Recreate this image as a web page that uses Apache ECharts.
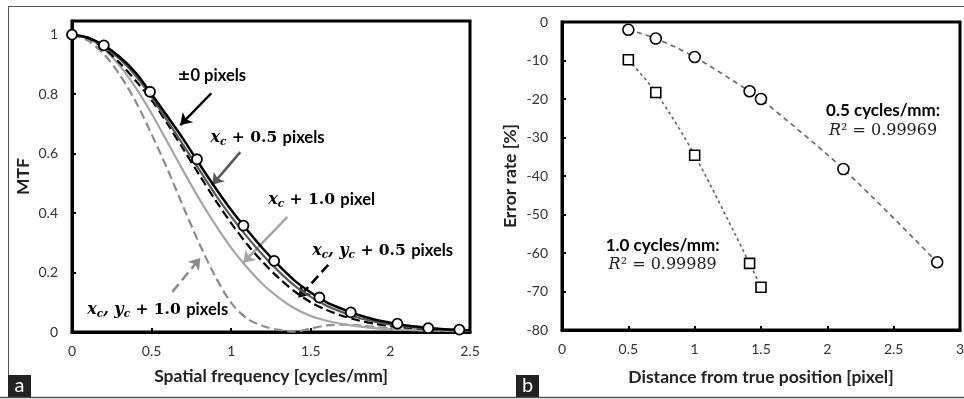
<!DOCTYPE html>
<html>
<head>
<meta charset="utf-8">
<script src="https://cdn.jsdelivr.net/npm/echarts@6/dist/echarts.min.js"></script>
<style>
html, body { margin: 0; padding: 0; background: #fff; }
#main { width: 964px; height: 399px; }
</style>
</head>
<body>
<div id="main"></div>
<script>
// (a) MTF curves, sampled every 0.1 cycles/mm
var freq = [0, 0.1, 0.2, 0.3, 0.4, 0.5, 0.6, 0.7, 0.8, 0.9, 1.0, 1.1, 1.2, 1.3, 1.4, 1.5, 1.6, 1.7, 1.8, 1.9, 2.0, 2.1, 2.2, 2.3, 2.4, 2.5];
var mtfZero = [1.0, 0.99, 0.964, 0.925, 0.872, 0.80, 0.725, 0.648, 0.565, 0.485, 0.41, 0.343, 0.28, 0.223, 0.172, 0.133, 0.10, 0.077, 0.057, 0.042, 0.031, 0.022, 0.016, 0.011, 0.008, 0.006];
var mtfXHalf = [1.0, 0.99, 0.96, 0.918, 0.862, 0.79, 0.71, 0.628, 0.545, 0.463, 0.388, 0.32, 0.258, 0.203, 0.155, 0.118, 0.088, 0.066, 0.048, 0.035, 0.025, 0.018, 0.013, 0.009, 0.006, 0.005];
var mtfXYHalf = [1.0, 0.988, 0.955, 0.905, 0.845, 0.78, 0.70, 0.614, 0.528, 0.444, 0.366, 0.295, 0.234, 0.181, 0.136, 0.10, 0.074, 0.054, 0.039, 0.028, 0.02, 0.015, 0.011, 0.008, 0.006, 0.005];
var mtfXOne = [1.0, 0.988, 0.952, 0.895, 0.822, 0.735, 0.638, 0.541, 0.447, 0.361, 0.283, 0.217, 0.16, 0.115, 0.079, 0.054, 0.038, 0.027, 0.019, 0.013, 0.009, 0.007, 0.006, 0.005, 0.004, 0.004];
var mtfXYOne = [1.0, 0.98, 0.935, 0.865, 0.775, 0.665, 0.547, 0.42, 0.297, 0.187, 0.098, 0.045, 0.02, 0.007, 0.001, 0.012, 0.022, 0.025, 0.022, 0.017, 0.012, 0.008, 0.005, 0.004, 0.003, 0.003];
// measured points on the ±0 curve
var markFreq = [0, 0.2, 0.49, 0.785, 1.077, 1.27, 1.554, 1.751, 2.044, 2.238, 2.433];
var markMtf = [1.0, 0.964, 0.808, 0.581, 0.358, 0.239, 0.116, 0.066, 0.028, 0.013, 0.008];

// (b) error rate vs distance
var dist05 = [0.5, 0.707, 1.0, 1.414, 1.5, 2.121, 2.828];
var err05 = [-2, -4.3, -9.1, -18, -20, -38.2, -62.4];
var dist10 = [0.5, 0.707, 1.0, 1.414, 1.5];
var err10 = [-9.8, -18.3, -34.6, -62.7, -68.9];

var tickFont = 'Lato, "Open Sans", sans-serif';
var serif = '"DejaVu Serif", serif';

function zip(xs, ys) {
	return xs.map(function (x, i) { return [x, ys[i]]; });
}

function curve(name, data, color, type, width, z) {
	return {
		name: name,
		type: 'line',
		xAxisIndex: 0,
		yAxisIndex: 0,
		data: data,
		smooth: 0.3,
		symbol: 'none',
		z: z,
		lineStyle: { color: color, type: type, width: width }
	};
}

function arrow(from, to, color, type) {
	return [
		{ coord: from, lineStyle: { color: color, type: type, width: 2.5 } },
		{ coord: to }
	];
}

function axisX(grid, max) {
	return {
		type: 'value',
		gridIndex: grid,
		min: 0,
		max: max,
		interval: 0.5,
		axisLine: { show: true, onZero: false, lineStyle: { color: '#000', width: 3 } },
		axisTick: { show: true, inside: true, length: 4, lineStyle: { color: '#000', width: 2 } },
		axisLabel: { color: '#333', fontFamily: tickFont, fontSize: 14, margin: 12 },
		splitLine: { show: false },
		nameLocation: 'middle',
		nameTextStyle: { color: '#222', fontFamily: tickFont, fontWeight: 'bold', fontSize: 17.5 }
	};
}

function axisY(grid) {
	return {
		type: 'value',
		gridIndex: grid,
		axisLine: { show: true, onZero: false, lineStyle: { color: '#000', width: 3 } },
		axisTick: { show: true, inside: true, length: 4, lineStyle: { color: '#000', width: 2 } },
		axisLabel: { color: '#333', fontFamily: tickFont, fontSize: 14, margin: 14 },
		splitLine: { show: false },
		nameLocation: 'middle',
		nameTextStyle: { color: '#222', fontFamily: tickFont, fontWeight: 'bold', fontSize: 17.5 }
	};
}

var chart = echarts.init(document.getElementById('main'), null, { renderer: 'canvas' });

var xA = axisX(0, 2.5);
xA.name = 'Spatial frequency [cycles/mm]';
xA.nameGap = 35;
var xB = axisX(1, 3);
xB.name = 'Distance from true position [pixel]';
xB.nameGap = 38;

var yA = axisY(0);
yA.min = 0;
yA.max = 1.046;
yA.interval = 0.2;
yA.name = 'MTF';
yA.nameGap = 40;
yA.axisLabel.formatter = function (v) {
	var r = Math.round(v * 5) / 5;
	return Math.abs(v - r) < 1e-6 ? String(r) : '';
};
var yB = axisY(1);
yB.min = -80;
yB.max = 0;
yB.interval = 10;
yB.name = 'Error rate [%]';
yB.nameGap = 43;

var zeroCurve = curve('±0 pixels', zip(freq, mtfZero), '#000', 'solid', 2.5, 10);
zeroCurve.markLine = {
	silent: true,
	animation: false,
	symbol: ['none', 'arrow'],
	symbolSize: 11,
	label: { show: false },
	data: [
		arrow([0.875, 0.803], [0.68, 0.696], '#000', 'solid'),
		arrow([1.057, 0.605], [0.881, 0.495], '#595959', 'solid'),
		arrow([1.353, 0.387], [1.076, 0.233], '#a6a6a6', 'solid'),
		arrow([1.61, 0.226], [1.422, 0.115], '#000', 'dashed'),
		arrow([0.63, 0.135], [0.806, 0.249], '#8c8c8c', 'dashed')
	]
};

var option = {
	animation: false,
	backgroundColor: '#fff',
	grid: [
		{ left: 72, top: 21, width: 398, height: 311, show: true, borderColor: '#000', borderWidth: 3, outerBoundsMode: 'none' },
		{ left: 562, top: 22, width: 398, height: 308, show: true, borderColor: '#000', borderWidth: 3, outerBoundsMode: 'none' }
	],
	xAxis: [xA, xB],
	yAxis: [yA, yB],
	series: [
		curve('xc,yc + 1.0 pixels', zip(freq, mtfXYOne), '#8c8c8c', 'dashed', 2.2, 2),
		curve('xc + 1.0 pixel', zip(freq, mtfXOne), '#a6a6a6', 'solid', 2.2, 3),
		curve('xc,yc + 0.5 pixels', zip(freq, mtfXYHalf), '#000', 'dashed', 2.2, 4),
		curve('xc + 0.5 pixels', zip(freq, mtfXHalf), '#595959', 'solid', 2.2, 5),
		zeroCurve,
		{
			name: 'measured',
			type: 'scatter',
			xAxisIndex: 0,
			yAxisIndex: 0,
			data: zip(markFreq, markMtf),
			symbol: 'circle',
			symbolSize: 10,
			z: 12,
			itemStyle: { color: '#fff', opacity: 1, borderColor: '#000', borderWidth: 1.8 }
		},
		{
			name: '0.5 cycles/mm',
			type: 'line',
			xAxisIndex: 1,
			yAxisIndex: 1,
			data: zip(dist05, err05),
			smooth: 0.3,
			symbol: 'circle',
			symbolSize: 11,
			showAllSymbol: true,
			lineStyle: { color: '#666', type: [5, 4], width: 1.6 },
			itemStyle: { color: '#fff', borderColor: '#000', borderWidth: 1.6 }
		},
		{
			name: '1.0 cycles/mm',
			type: 'line',
			xAxisIndex: 1,
			yAxisIndex: 1,
			data: zip(dist10, err10),
			smooth: 0.3,
			symbol: 'rect',
			symbolSize: 10,
			showAllSymbol: true,
			lineStyle: { color: '#666', type: [3, 3], width: 1.6 },
			itemStyle: { color: '#fff', borderColor: '#000', borderWidth: 1.6 }
		}
	]
};

chart.setOption(option);

// annotations placed in data space of each panel
function at(grid, x, y) {
	return chart.convertToPixel({ gridIndex: grid }, [x, y]);
}

var labelRich = {
	v: { fontFamily: serif, fontStyle: 'italic', fontWeight: 'bold', fontSize: 16, lineHeight: 20, fill: '#000' },
	s: { fontFamily: serif, fontStyle: 'italic', fontWeight: 'bold', fontSize: 10.5, lineHeight: 12, verticalAlign: 'bottom', fill: '#000' },
	n: { fontFamily: serif, fontWeight: 'bold', fontSize: 15.5, lineHeight: 20, fill: '#000' },
	p: { fontFamily: tickFont, fontWeight: 'bold', fontSize: 16.5, lineHeight: 20, fill: '#000' },
	b: { fontFamily: tickFont, fontWeight: 'bold', fontSize: 17, lineHeight: 20, fill: '#000' },
	r: { fontFamily: serif, fontStyle: 'italic', fontSize: 16, lineHeight: 20, fill: '#222' },
	q: { fontFamily: serif, fontSize: 16, lineHeight: 20, fill: '#222' }
};

function note(grid, x, y, text, align) {
	var p = at(grid, x, y);
	return {
		type: 'text',
		x: p[0],
		y: p[1],
		z: 50,
		style: { text: text, rich: labelRich, align: align || 'left', verticalAlign: 'top' }
	};
}

function tag(x, y, letter) {
	return [
		{ type: 'rect', shape: { x: x, y: y, width: 23, height: 22 }, style: { fill: '#222' }, z: 60 },
		{ type: 'text', x: x + 11.5, y: y + 11, z: 61,
			style: { text: letter, fill: '#fff', font: '20px Lato, sans-serif', align: 'center', verticalAlign: 'middle' } }
	];
}

var graphics = [
	{ type: 'line', shape: { x1: 8, y1: 6.5, x2: 964, y2: 6.5 }, style: { stroke: '#555', lineWidth: 1 }, z: 40 },
	{ type: 'line', shape: { x1: 8.5, y1: 6, x2: 8.5, y2: 397 }, style: { stroke: '#555', lineWidth: 1 }, z: 40 },
	{ type: 'line', shape: { x1: 0, y1: 397.5, x2: 964, y2: 397.5 }, style: { stroke: '#555', lineWidth: 1.5 }, z: 40 },
	note(0, 0.663, 0.895, '{n|±}{p|0 pixels}'),
	note(0, 0.87, 0.687, '{v|x}{s|c}{n| + 0.5 }{p|pixels}'),
	note(0, 1.233, 0.478, '{v|x}{s|c}{n| + 1.0 }{p|pixel}'),
	note(0, 1.509, 0.307, '{v|x}{s|c}{v|, y}{s|c}{n| + 0.5 }{p|pixels}'),
	note(0, 0.096, 0.109, '{v|x}{s|c}{v|, y}{s|c}{n| + 1.0 }{p|pixels}'),
	note(1, 2.42, -20.4, '{b|0.5 cycles/mm:}', 'center'),
	note(1, 2.42, -25.6, '{r|R}{q|² = 0.99969}', 'center'),
	note(1, 0.759, -55.4, '{b|1.0 cycles/mm:}', 'center'),
	note(1, 0.759, -60.6, '{r|R}{q|² = 0.99989}', 'center')
].concat(tag(8, 375, 'a'), tag(516, 375, 'b'));

chart.setOption({ graphic: graphics });
</script>
</body>
</html>
